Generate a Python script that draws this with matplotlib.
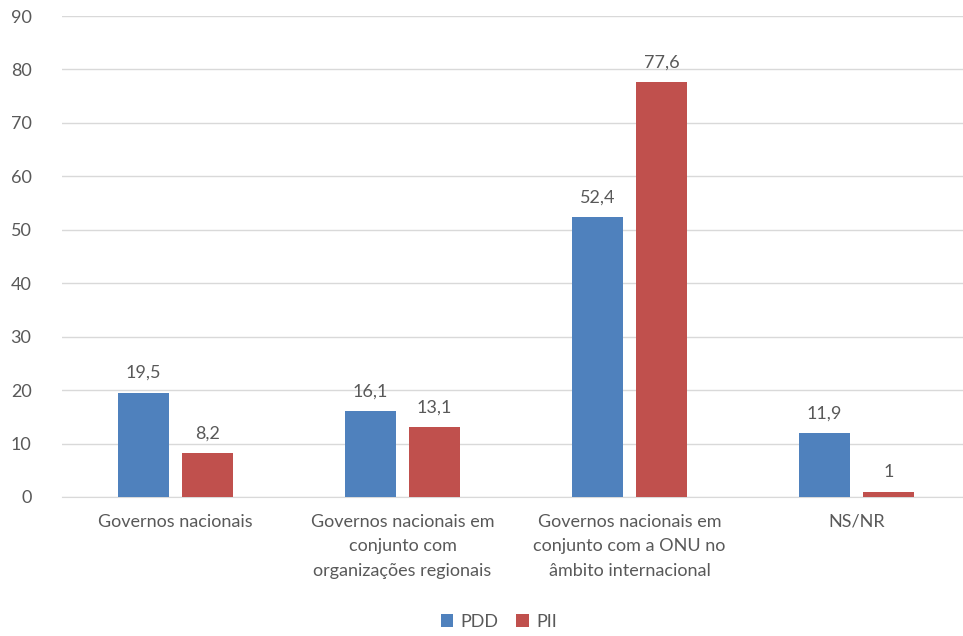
import matplotlib
matplotlib.use("Agg")
import matplotlib.pyplot as plt
import numpy as np

categories = ["Governos nacionais",
              "Governos nacionais em\nconjunto com\norganizações regionais",
              "Governos nacionais em\nconjunto com a ONU no\nâmbito internacional",
              "NS/NR"]
pdd = [19.5, 16.1, 52.4, 11.9]
pii = [8.2, 13.1, 77.6, 1]
series_names = ["PDD", "PII"]

blue = "#4F81BD"
red = "#C0504D"
grey = "#595959"

plt.rcParams['font.family'] = ['Lato', 'DejaVu Sans']

fig = plt.figure(figsize=(9.63, 6.36), dpi=100)
# plot area runs a little past the right edge, like the cropped original
ax = fig.add_axes([0.0644, 0.2186, 0.943, 0.7562])

x = np.arange(len(categories))
w = 0.225
off = 0.141
b1 = ax.bar(x - off, pdd, w, color=blue, label=series_names[0], zorder=3)
b2 = ax.bar(x + off, pii, w, color=red, label=series_names[1], zorder=3)

def fmt(v):
    s = ("%g" % v).replace(".", ",")
    return s

for bars, vals in ((b1, pdd), (b2, pii)):
    for rect, v in zip(bars, vals):
        ax.text(rect.get_x() + rect.get_width() / 2, v + 2.2, fmt(v),
                ha="center", va="bottom", fontsize=13, color=grey)

ax.set_ylim(0, 90)
ax.set_xlim(-0.5, len(categories) - 0.5)
ax.set_yticks(np.arange(0, 91, 10))
ax.yaxis.grid(True, color="#D9D9D9", linewidth=1, zorder=0)
ax.set_xticks(x)
ax.set_xticklabels(categories, fontsize=13, color=grey, linespacing=1.65)
ax.tick_params(axis="y", labelsize=13, labelcolor=grey, length=0, pad=22)
ax.tick_params(axis="x", length=0, pad=12)
for s in ["top", "right", "left"]:
    ax.spines[s].set_visible(False)
ax.spines["bottom"].set_color("#D9D9D9")

ax.legend(loc="lower center", bbox_to_anchor=(0.481, -0.31), ncol=2, frameon=False,
          fontsize=13, labelcolor=grey, handlelength=0.7, handleheight=0.7,
          handletextpad=0.4, columnspacing=1.0)

fig.savefig("out.png", dpi=100)
